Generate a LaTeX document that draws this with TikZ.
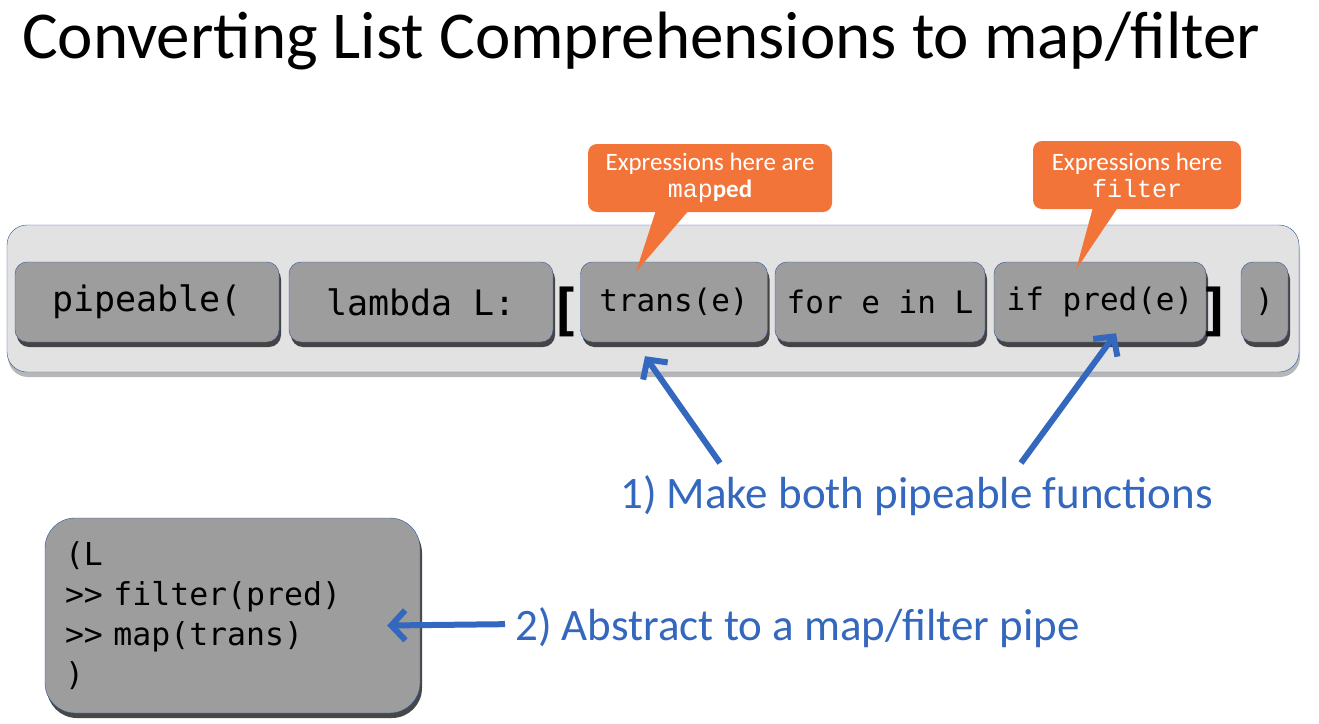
\documentclass[tikz,border=0pt]{standalone}
\usepackage{fontspec}
\setmainfont{Carlito}
\setmonofont{DejaVu Sans Mono}
\newfontfamily\courierfont{Liberation Mono}
\usepackage{xcolor}
\usepackage{tikz}
\usetikzlibrary{arrows.meta,shapes.geometric,positioning,calc,shadows}

\definecolor{stripgray}{HTML}{E2E2E2}
\definecolor{boxgray}{HTML}{9D9D9D}
\definecolor{edgeblue}{HTML}{2F5496}
\definecolor{notecolor}{HTML}{F37439}
\definecolor{arrowblue}{HTML}{3467BE}

\tikzset{
	codebox/.style={draw=edgeblue, fill=boxgray, rounded corners=12pt, minimum height=80pt,
		font=\fontsize{31}{40}\selectfont\ttfamily, inner sep=0pt,
		drop shadow={shadow xshift=2pt, shadow yshift=-5pt, fill=black!80, opacity=0.9}},
	bigcode/.style={font=\fontsize{35}{40}\selectfont\ttfamily},
	note/.style={fill=notecolor, rounded corners=9pt, text=white, align=center,
		font=\fontsize{25}{27}\selectfont, inner sep=0pt},
	bluearrow/.style={draw=arrowblue, line width=6pt, -{Straight Barb[length=14pt, width=30pt, line width=6pt]}},
	bluetext/.style={text=arrowblue, font=\fontsize{45}{50}\selectfont, inner sep=0pt}
}

\begin{document}
\begin{tikzpicture}[x=1pt,y=-1pt]
		\useasboundingbox[fill=white] (0,0) rectangle (1319,723);

		\node[anchor=base west, inner sep=0pt, font=\fontsize{67}{75}\selectfont] (title) at (22,58) {Converting List Comprehensions to map/filter};

		% the comprehension strip
		\node[draw=edgeblue, fill=stripgray, rounded corners=20pt, minimum width=1292pt, minimum height=147pt,
			drop shadow={shadow xshift=1pt, shadow yshift=-5pt, fill=black!35, opacity=0.8}] (strip) at (653,298.5) {};

		\node[codebox, bigcode, minimum width=264pt] (pipe) at (147,302) {pipeable(};
		\node[codebox, bigcode, minimum width=264pt] (lam) at (421,302) {lambda L:};
		\node[inner sep=0pt, font=\fontsize{56}{60}\selectfont\ttfamily\bfseries] (open) at (565,312) {[};
		\node[codebox, minimum width=187pt] (trans) at (674,302) {trans(e)};
		\node[codebox, minimum width=210pt] (loop) at (880,302) {for e in L};
		\node[codebox, minimum width=212pt] (pred) at (1100,302) {if pred(e)};
		\node[inner sep=0pt, font=\fontsize{56}{60}\selectfont\ttfamily\bfseries] (close) at (1215,312) {]};
		\node[codebox, minimum width=47pt] (paren) at (1264.5,302) {)};

		% callouts
		\node[note, minimum width=244pt, minimum height=68pt] (mapnote) at (710,178) {Expressions here are\\{\courierfont map}\textbf{ped}};
		\fill[notecolor] ($(mapnote.south)+(-54,-2)$) -- ($(mapnote.south)+(-21,-2)$) -- ($(trans.north)+(-38,10)$) -- cycle;

		\node[note, minimum width=208pt, minimum height=68pt] (filtnote) at (1137,175) {Expressions here\\{\courierfont filter}};
		\fill[notecolor] ($(filtnote.south)+(-44,-2)$) -- ($(filtnote.south)+(-19,-2)$) -- ($(pred.north)+(-24,8)$) -- cycle;

		% step 1
		\node[bluetext, anchor=base west] (step1) at (620,508) {1) Make both pipeable functions};
		\coordinate (tail1) at (720,463);
		\coordinate (tail2) at (1021,463);
		\draw[bluearrow] (tail1) -- ($(trans.south)+(-29,14)$);
		\draw[bluearrow] (tail2) -- ($(pred.south)+(16,-9)$);

		% step 2
		\node[codebox, minimum width=375pt, minimum height=195pt, rounded corners=30pt, align=left,
			text width=335pt, font=\fontsize{31.5}{40}\selectfont\ttfamily] (chain) at (232.5,615.5)
			{(L\\>{}> filter(pred)\\>{}> map(trans)\\)};
		\node[bluetext, anchor=base west] (step2) at (515,640) {2) Abstract to a map/filter pipe};
		\draw[bluearrow] ($(step2.west)+(-10,-3)$) -- ($(chain.east)+(-33,10)$);
	\end{tikzpicture}
\end{document}
